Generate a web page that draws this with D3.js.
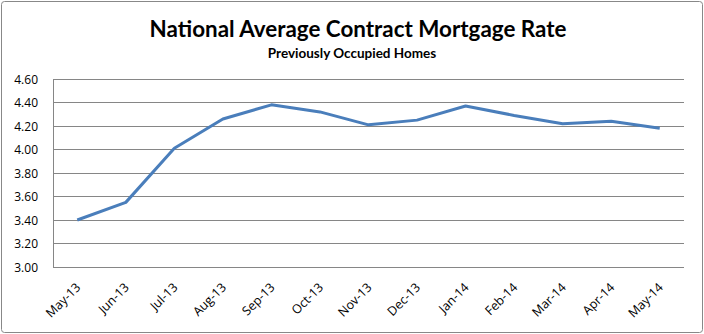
<!DOCTYPE html>
<html><head><meta charset="utf-8">
<script src="https://cdn.jsdelivr.net/npm/d3@7"></script>
<style>body{margin:0;background:#fff;} svg{display:block;}</style>
</head><body>
<svg id="chart" width="704" height="334"></svg>
<script>
const months = ["May-13","Jun-13","Jul-13","Aug-13","Sep-13","Oct-13","Nov-13","Dec-13","Jan-14","Feb-14","Mar-14","Apr-14","May-14"];
const rates = [3.40,3.55,4.01,4.26,4.38,4.32,4.21,4.25,4.37,4.29,4.22,4.24,4.18];
const yTicks = [3.00,3.20,3.40,3.60,3.80,4.00,4.20,4.40,4.60];
const title = "National Average Contract Mortgage Rate";
const subtitle = "Previously Occupied Homes";

const svg = d3.select("#chart");
const W = 704, H = 334;
const m = {left:53, right:20, top:79, bottom:67};

svg.append("rect").attr("x",1.5).attr("y",1.5).attr("width",W-3).attr("height",H-3)
  .attr("rx",3).attr("fill","#fff").attr("stroke","#888").attr("stroke-width",1);

const x = d3.scaleBand().domain(months).range([m.left, W-m.right]);
const y = d3.scaleLinear().domain([3.0,4.6]).range([H-m.bottom, m.top]);

const font = "Lato, 'Open Sans', sans-serif";
svg.append("text").attr("x",358).attr("y",37).attr("text-anchor","middle")
  .attr("font-family",font).attr("font-weight","bold").attr("font-size",22.4).attr("fill","#000")
  .text(title);
svg.append("text").attr("x",352).attr("y",58).attr("text-anchor","middle")
  .attr("font-family",font).attr("font-weight","bold").attr("font-size",13.5).attr("fill","#000")
  .text(subtitle);

// gridlines
svg.append("g").selectAll("line").data(yTicks).join("line")
  .attr("x1",m.left).attr("x2",W-m.right)
  .attr("y1",d=>Math.round(y(d))+0.5).attr("y2",d=>Math.round(y(d))+0.5)
  .attr("stroke","#868686").attr("stroke-width",1);
// left axis line
svg.append("line").attr("x1",m.left+0.5).attr("x2",m.left+0.5)
  .attr("y1",y(4.6)).attr("y2",y(3.0)+0.5).attr("stroke","#868686");

const yAxis = d3.axisLeft(y).tickValues(yTicks).tickFormat(d3.format(".2f")).tickSize(0).tickPadding(15);
const gy = svg.append("g").attr("transform",`translate(${m.left},0.5)`).call(yAxis);
gy.select(".domain").remove();
gy.selectAll("text").attr("font-family","'Open Sans', 'DejaVu Sans', sans-serif").attr("font-size",12).attr("fill","#000");

const xAxis = d3.axisBottom(x).tickSize(0).tickPadding(0);
const gx = svg.append("g").attr("transform",`translate(0,${H-m.bottom})`).call(xAxis);
gx.select(".domain").remove();
gx.selectAll("text")
  .attr("font-family","'Open Sans', 'DejaVu Sans', sans-serif").attr("font-size",12.5).attr("fill","#000")
  .attr("text-anchor","end").attr("dy","0.35em")
  .attr("transform","translate(1,18) rotate(-45)");

const line = d3.line().x((d,i)=>x(months[i])+x.bandwidth()/2).y(d=>y(d));
svg.append("path").datum(rates).attr("d",line).attr("fill","none")
  .attr("stroke","#4a7ebb").attr("stroke-width",3).attr("stroke-linejoin","round");
</script>
</body></html>
